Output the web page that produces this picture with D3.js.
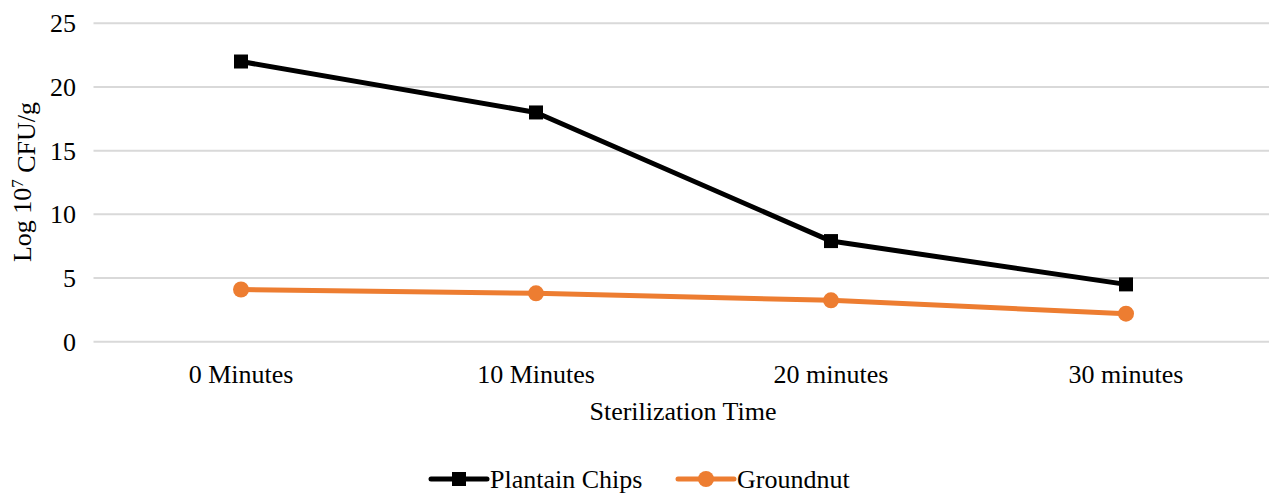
<!DOCTYPE html>
<html>
<head>
<meta charset="utf-8">
<script src="https://cdn.jsdelivr.net/npm/d3@7"></script>
<style>
  body { margin: 0; background: #fff; }
  text { font-family: "Liberation Serif", "Times New Roman", serif; fill: #000; }
</style>
</head>
<body>
<div id="chart"></div>
<script>
// data
const categories = ["0 Minutes", "10 Minutes", "20 minutes", "30 minutes"];
const plantainChips = [22, 18, 7.9, 4.5];
const groundnut = [4.1, 3.8, 3.25, 2.2];
const yTicks = [0, 5, 10, 15, 20, 25];

const width = 1269, height = 495;
let margin = {top: 23.3, left: 93.5, bottom: 495 - 341.7};

let svg = d3.select("#chart")
    .append("svg")
    .attr("width", width)
    .attr("height", height);

// x: category bands, point sits in the middle of each band
let x = d3.scaleBand()
    .domain(categories)
    .range([margin.left, margin.left + 4 * 295])
    .padding(0);
let xc = function(c) { return x(c) + x.bandwidth() / 2; };

let y = d3.scaleLinear()
    .domain([0, 25])
    .range([height - margin.bottom, margin.top]);

// gridlines
svg.append("g")
    .selectAll("line")
    .data(yTicks)
    .enter()
    .append("line")
    .attr("x1", margin.left)
    .attr("x2", width)
    .attr("y1", function(d) { return y(d); })
    .attr("y2", function(d) { return y(d); })
    .attr("stroke", "#d9d9d9")
    .attr("stroke-width", 2);

// y tick labels
svg.append("g")
    .selectAll("text")
    .data(yTicks)
    .enter()
    .append("text")
    .attr("x", 76)
    .attr("y", function(d) { return y(d); })
    .attr("dy", "0.35em")
    .attr("text-anchor", "end")
    .style("font-size", "26px")
    .text(function(d) { return d; });

// x tick labels
svg.append("g")
    .selectAll("text")
    .data(categories)
    .enter()
    .append("text")
    .attr("x", function(d) { return xc(d); })
    .attr("y", 383)
    .attr("text-anchor", "middle")
    .style("font-size", "26px")
    .text(function(d) { return d; });

// axis titles
svg.append("text")
    .attr("x", 683)
    .attr("y", 420)
    .attr("text-anchor", "middle")
    .style("font-size", "26px")
    .text("Sterilization Time");

let yTitle = svg.append("text")
    .attr("transform", "translate(31,182)rotate(-90)")
    .attr("text-anchor", "middle")
    .style("font-size", "26px");
yTitle.append("tspan").text("Log 10");
yTitle.append("tspan").attr("dy", "-0.45em").style("font-size", "17px").text("7");
yTitle.append("tspan").attr("dy", "0.45em").text(" CFU/g");

// series
let series = [
    {name: "Plantain Chips", values: plantainChips, color: "#000000", marker: "square"},
    {name: "Groundnut", values: groundnut, color: "#ed7d31", marker: "circle"}
];

let line = d3.line()
    .x(function(d, i) { return xc(categories[i]); })
    .y(function(d) { return y(d); });

function drawMarker(g, type, color, cx, cy) {
    if (type == "square") {
        g.append("rect")
            .attr("x", cx - 7).attr("y", cy - 7)
            .attr("width", 14).attr("height", 14)
            .attr("fill", color);
    } else {
        g.append("circle")
            .attr("cx", cx).attr("cy", cy).attr("r", 8)
            .attr("fill", color);
    }
}

series.forEach(function(s) {
    svg.append("path")
        .datum(s.values)
        .attr("d", line)
        .attr("fill", "none")
        .attr("stroke", s.color)
        .attr("stroke-width", 5)
        .attr("stroke-linejoin", "round");
    let g = svg.append("g");
    s.values.forEach(function(v, i) {
        drawMarker(g, s.marker, s.color, xc(categories[i]), y(v));
    });
});

// legend (kept a little above the bottom edge so descenders are not cut)
let legendX = [431, 678];
series.forEach(function(s, i) {
    let g = svg.append("g").attr("transform", "translate(" + legendX[i] + ",479)");
    g.append("line")
        .attr("x1", 0).attr("x2", 56)
        .attr("y1", 0).attr("y2", 0)
        .attr("stroke", s.color)
        .attr("stroke-width", 5)
        .attr("stroke-linecap", "round");
    drawMarker(g, s.marker, s.color, 28, 0);
    g.append("text")
        .attr("x", 59)
        .attr("y", 0)
        .attr("dy", "0.35em")
        .style("font-size", "26px")
        .text(s.name);
});
</script>
</body>
</html>
